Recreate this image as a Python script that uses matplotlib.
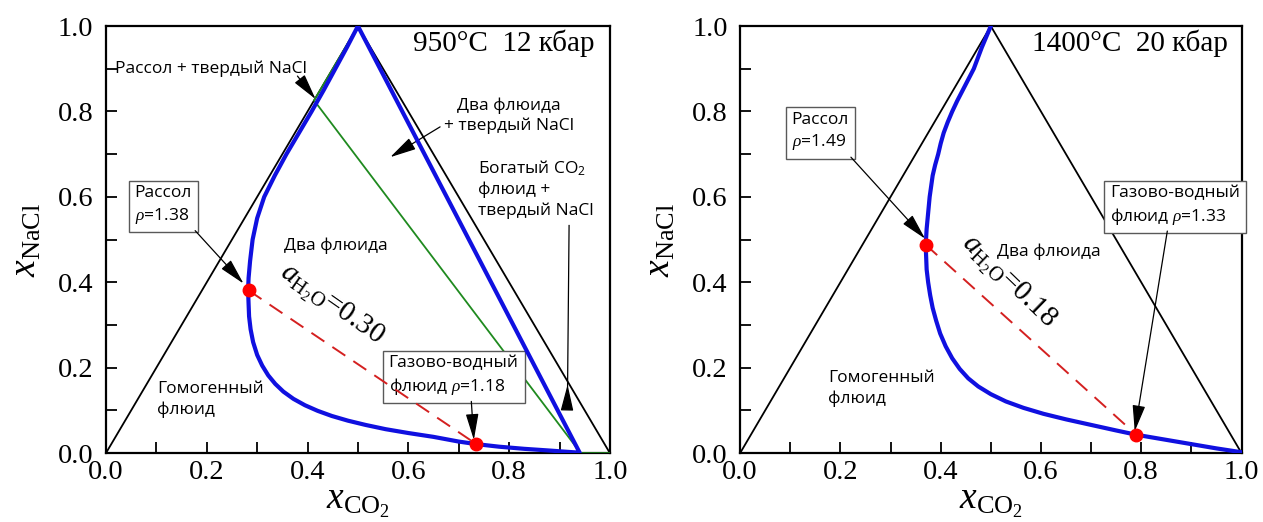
import matplotlib
matplotlib.use("Agg")
import matplotlib.pyplot as plt
from matplotlib.ticker import MultipleLocator

plt.rcParams['font.family'] = ['Liberation Serif', 'DejaVu Serif']
plt.rcParams['mathtext.fontset'] = 'custom'
plt.rcParams['mathtext.rm'] = 'Liberation Serif'
plt.rcParams['mathtext.it'] = 'Liberation Serif:italic'
plt.rcParams['mathtext.sf'] = 'Open Sans'

SANS = ['Open Sans', 'DejaVu Sans']
FS = 12.5  # annotation font size

# triangle of the ternary section (H2O - NaCl - CO2)
tri_x = [0.0, 0.5, 1.0]
tri_y = [0.0, 1.0, 0.0]

# 950 C, 12 kbar: solvus (blue)
solv1_x = [0.500, 0.478, 0.455, 0.432, 0.408, 0.383, 0.358, 0.335, 0.314, 0.300,
           0.291, 0.286, 0.283, 0.282, 0.283, 0.284, 0.287, 0.292, 0.300, 0.310,
           0.322, 0.336, 0.352, 0.372, 0.395, 0.420, 0.448, 0.480, 0.515, 0.555,
           0.600, 0.650, 0.700, 0.735, 0.780, 0.830, 0.880, 0.915, 0.940, 0.500]
solv1_y = [1.000, 0.950, 0.900, 0.850, 0.800, 0.750, 0.700, 0.650, 0.600, 0.550,
           0.500, 0.450, 0.410, 0.381, 0.350, 0.320, 0.290, 0.260, 0.230, 0.205,
           0.182, 0.162, 0.144, 0.127, 0.112, 0.099, 0.087, 0.076, 0.066, 0.056,
           0.047, 0.038, 0.027, 0.021, 0.015, 0.010, 0.006, 0.003, 0.001, 1.000]
# halite saturation (green)
sat1_x = [0.500, 0.413, 0.942, 1.000]
sat1_y = [1.000, 0.826, 0.000, 0.000]
tie1_x = [0.283, 0.735]
tie1_y = [0.381, 0.021]

# 1400 C, 20 kbar
solv2_x = [0.500, 0.491, 0.482, 0.474, 0.466, 0.455, 0.444, 0.433, 0.423, 0.414,
           0.406, 0.400, 0.395, 0.389, 0.384, 0.381, 0.378, 0.376, 0.374, 0.372,
           0.371, 0.370, 0.371, 0.372, 0.375, 0.379, 0.384, 0.391, 0.399, 0.410,
           0.423, 0.438, 0.455, 0.475, 0.500, 0.530, 0.565, 0.605, 0.650, 0.700,
           0.750, 0.790, 0.850, 0.900, 0.950, 1.000]
solv2_y = [1.000, 0.975, 0.950, 0.925, 0.900, 0.875, 0.850, 0.825, 0.800, 0.775,
           0.750, 0.725, 0.700, 0.675, 0.650, 0.625, 0.600, 0.575, 0.550, 0.525,
           0.505, 0.488, 0.460, 0.430, 0.400, 0.370, 0.340, 0.310, 0.280, 0.250,
           0.222, 0.197, 0.175, 0.156, 0.138, 0.121, 0.106, 0.092, 0.079, 0.066,
           0.053, 0.043, 0.031, 0.021, 0.011, 0.002]
tie2_x = [0.370, 0.790]
tie2_y = [0.488, 0.043]

fig = plt.figure(figsize=(12.63, 5.22), dpi=100)
ax1 = fig.add_axes([0.0839, 0.132, 0.399, 0.818])
ax2 = fig.add_axes([0.586, 0.132, 0.397, 0.818])

arrow = dict(arrowstyle='-|>,head_length=0.9,head_width=0.22', color='black',
             lw=0.9, shrinkA=0, shrinkB=0, mutation_scale=18)
box = dict(boxstyle='square,pad=0.35', fc='white', ec='0.35', lw=1.0)


def setup(ax):
    ax.set_xlim(0, 1)
    ax.set_ylim(0, 1)
    ax.xaxis.set_major_locator(MultipleLocator(0.2))
    ax.xaxis.set_minor_locator(MultipleLocator(0.1))
    ax.yaxis.set_major_locator(MultipleLocator(0.2))
    ax.yaxis.set_minor_locator(MultipleLocator(0.1))
    ax.xaxis.set_major_formatter(plt.FormatStrFormatter('%.1f'))
    ax.yaxis.set_major_formatter(plt.FormatStrFormatter('%.1f'))
    ax.tick_params(which='both', direction='in', length=8, width=1.3,
                   labelsize=20.5)
    ax.tick_params(axis='x', pad=5)
    ax.tick_params(axis='y', pad=9)
    for s in ax.spines.values():
        s.set_linewidth(1.6)
    ax.set_xlabel(r'$x_{\mathrm{CO_2}}$', fontsize=27, labelpad=0)
    ax.set_ylabel(r'$x_{\mathrm{NaCl}}$', fontsize=27, labelpad=10)
    ax.plot(tri_x, tri_y, color='black', lw=1.3, zorder=2)


# ---- left panel
setup(ax1)
ax1.plot(sat1_x, sat1_y, color='#1f8a1f', lw=1.3, zorder=3)
ax1.plot(solv1_x, solv1_y, color='#1010e0', lw=3, zorder=4)
ax1.plot(tie1_x, tie1_y, color='#d42020', lw=1.4, dashes=(8, 5), zorder=5)
ax1.plot(tie1_x, tie1_y, 'o', color='red', ms=9, zorder=6, ls='none')

ax1.text(0.97, 0.942, '950°C  12 кбар', ha='right', va='baseline', fontsize=21)
ax1.text(0.447, 0.347, r'$a_{\mathrm{H_2O}}$=0.30', rotation=-35, ha='center',
         va='center', fontsize=21)
ax1.text(0.018, 0.899, 'Рассол + твердый NaCl', family=SANS, fontsize=FS,
         va='center')
ax1.annotate('', xy=(0.416, 0.829), xytext=(0.380, 0.883), arrowprops=arrow)
ax1.text(0.80, 0.79, 'Два флюида\n+ твердый NaCl', family=SANS, fontsize=FS,
         ha='center', va='center', linespacing=1.35)
ax1.annotate('', xy=(0.564, 0.693), xytext=(0.663, 0.764), arrowprops=arrow)
ax1.text(0.739, 0.619, 'Богатый CO$_\\mathsf{2}$\nфлюид +\nтвердый NaCl',
         family=SANS, fontsize=FS, ha='left', va='center', linespacing=1.35)
ax1.plot([0.919, 0.916], [0.533, 0.156], color='black', lw=0.9)
ax1.annotate('', xy=(0.916, 0.160), xytext=(0.915, 0.105), arrowprops=arrow)
ax1.text(0.456, 0.486, 'Два флюида', family=SANS, fontsize=FS,
         ha='center', va='center')
ax1.text(0.101, 0.125, 'Гомогенный\nфлюид', family=SANS, fontsize=FS,
         ha='left', va='center', linespacing=1.35)
ax1.text(0.114, 0.580, 'Рассол\n$\\rho$=1.38', family=SANS, fontsize=FS,
         ha='center', va='center', multialignment='left', linespacing=1.35,
         bbox=box)
ax1.annotate('', xy=(0.273, 0.397), xytext=(0.177, 0.521), arrowprops=arrow)
ax1.text(0.690, 0.181, 'Газово-водный\nфлюид $\\rho$=1.18', family=SANS,
         fontsize=FS, ha='center', va='center', multialignment='left',
         linespacing=1.35, bbox=box)
ax1.annotate('', xy=(0.730, 0.031), xytext=(0.725, 0.121), arrowprops=arrow)

# ---- right panel
setup(ax2)
ax2.plot(solv2_x, solv2_y, color='#1010e0', lw=3, zorder=4)
ax2.plot(tie2_x, tie2_y, color='#d42020', lw=1.4, dashes=(8, 5), zorder=5)
ax2.plot(tie2_x, tie2_y, 'o', color='red', ms=9, zorder=6, ls='none')

ax2.text(0.972, 0.942, '1400°C  20 кбар', ha='right', va='baseline', fontsize=21)
ax2.text(0.535, 0.400, r'$a_{\mathrm{H_2O}}$=0.18', rotation=-44, ha='center',
         va='center', fontsize=21)
ax2.text(0.615, 0.471, 'Два флюида', family=SANS, fontsize=FS,
         ha='center', va='center')
ax2.text(0.176, 0.152, 'Гомогенный\nфлюид', family=SANS, fontsize=FS,
         ha='left', va='center', linespacing=1.35)
ax2.text(0.160, 0.752, 'Рассол\n$\\rho$=1.49', family=SANS, fontsize=FS,
         ha='center', va='center', multialignment='left', linespacing=1.35,
         bbox=box)
ax2.annotate('', xy=(0.369, 0.502), xytext=(0.221, 0.693), arrowprops=arrow)
ax2.text(0.868, 0.579, 'Газово-водный\nфлюид $\\rho$=1.33', family=SANS,
         fontsize=FS, ha='center', va='center', multialignment='left',
         linespacing=1.35, bbox=box)
ax2.annotate('', xy=(0.787, 0.051), xytext=(0.852, 0.520), arrowprops=arrow)

fig.savefig('out.png', dpi=100)
